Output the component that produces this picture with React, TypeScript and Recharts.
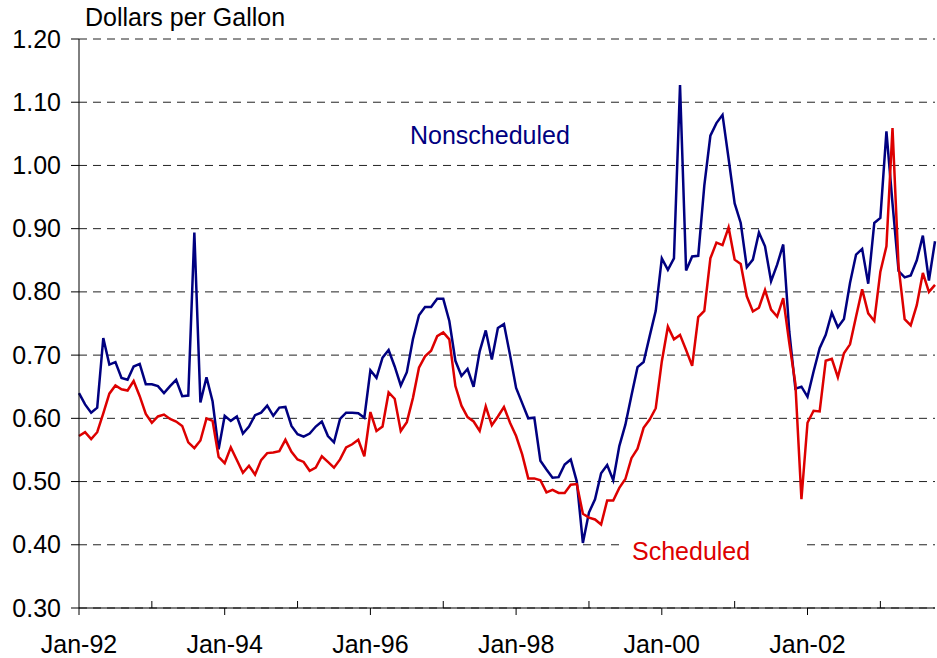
import React from 'react';
import {
  LineChart,
  Line,
  XAxis,
  YAxis,
  CartesianGrid,
} from 'recharts';

// monthly prices, Jan-92 .. Oct-03 (dollars per gallon)
const nonscheduled = [
  0.640, 0.622, 0.609, 0.617, 0.727, 0.685, 0.689, 0.664, 0.661, 0.682, 0.686, 0.654,
  0.654, 0.651, 0.640, 0.651, 0.661, 0.635, 0.636, 0.894, 0.625, 0.665, 0.627, 0.551,
  0.604, 0.596, 0.603, 0.576, 0.587, 0.605, 0.609, 0.620, 0.604, 0.617, 0.618, 0.588,
  0.575, 0.571, 0.576, 0.587, 0.595, 0.572, 0.562, 0.599, 0.609, 0.609, 0.608, 0.601,
  0.676, 0.664, 0.696, 0.708, 0.682, 0.652, 0.673, 0.725, 0.763, 0.776, 0.776, 0.789,
  0.789, 0.754, 0.691, 0.667, 0.678, 0.650, 0.706, 0.739, 0.693, 0.743, 0.749, 0.700,
  0.648, 0.624, 0.600, 0.601, 0.533, 0.519, 0.506, 0.507, 0.527, 0.535, 0.500, 0.403,
  0.451, 0.472, 0.513, 0.526, 0.502, 0.556, 0.590, 0.636, 0.681, 0.689, 0.730, 0.770,
  0.853, 0.835, 0.853, 1.127, 0.834, 0.856, 0.857, 0.968, 1.047, 1.067, 1.080, 1.011,
  0.940, 0.909, 0.839, 0.851, 0.894, 0.872, 0.817, 0.843, 0.875, 0.737, 0.647, 0.650,
  0.634, 0.674, 0.711, 0.732, 0.767, 0.744, 0.757, 0.814, 0.859, 0.868, 0.813, 0.909,
  0.917, 1.054, 0.940, 0.833, 0.823, 0.826, 0.850, 0.889, 0.818, 0.880,
];

const scheduled = [
  0.572, 0.578, 0.567, 0.578, 0.608, 0.639, 0.652, 0.646, 0.644, 0.659, 0.635, 0.607,
  0.593, 0.603, 0.606, 0.599, 0.595, 0.588, 0.562, 0.553, 0.565, 0.600, 0.596, 0.539,
  0.529, 0.554, 0.534, 0.514, 0.525, 0.511, 0.534, 0.545, 0.546, 0.548, 0.566, 0.547,
  0.535, 0.531, 0.517, 0.522, 0.540, 0.531, 0.522, 0.535, 0.554, 0.559, 0.566, 0.540,
  0.610, 0.580, 0.587, 0.641, 0.631, 0.580, 0.594, 0.632, 0.680, 0.698, 0.707, 0.730,
  0.736, 0.725, 0.651, 0.620, 0.602, 0.595, 0.580, 0.619, 0.589, 0.603, 0.618, 0.593,
  0.572, 0.543, 0.505, 0.505, 0.502, 0.483, 0.487, 0.482, 0.482, 0.495, 0.496, 0.449,
  0.443, 0.440, 0.432, 0.470, 0.470, 0.490, 0.504, 0.537, 0.552, 0.585, 0.598, 0.616,
  0.690, 0.745, 0.725, 0.732, 0.708, 0.683, 0.760, 0.770, 0.853, 0.878, 0.874, 0.902,
  0.851, 0.844, 0.793, 0.769, 0.775, 0.803, 0.772, 0.761, 0.790, 0.719, 0.655, 0.472,
  0.593, 0.612, 0.611, 0.691, 0.694, 0.665, 0.703, 0.717, 0.761, 0.804, 0.766, 0.754,
  0.832, 0.872, 1.059, 0.840, 0.757, 0.747, 0.779, 0.830, 0.800, 0.811,
];

// one tick per January; only every other year is labelled
const xTicks = [0, 12, 24, 36, 48, 60, 72, 84, 96, 108, 120, 132];
const xTickLabels = ['Jan-92', '', 'Jan-94', '', 'Jan-96', '', 'Jan-98', '', 'Jan-00', '', 'Jan-02', ''];
const yTicks = [0.3, 0.4, 0.5, 0.6, 0.7, 0.8, 0.9, 1.0, 1.1, 1.2];

const FONT = '"Liberation Sans", Arial, sans-serif';
const NAVY = '#000080';
const RED = '#dd0000';

const data = nonscheduled.map((v, i) => ({
  i,
  nonscheduled: v,
  scheduled: scheduled[i],
}));

function XTick(props: any) {
  const { x, y, payload } = props;
  const idx = xTicks.indexOf(payload.value);
  const label = xTickLabels[idx] ?? '';
  return (
    <g>
      {label ? (
        <line x1={x} x2={x} y1={y} y2={y + 7} stroke="#000" strokeWidth={1} />
      ) : (
        <line x1={x} x2={x} y1={y - 7} y2={y} stroke="#000" strokeWidth={1} />
      )}
      {label && (
        <text x={x} y={y + 45} textAnchor="middle" fontFamily={FONT} fontSize={25} fill="#000">
          {label}
        </text>
      )}
    </g>
  );
}

function YTick(props: any) {
  const { x, y, payload } = props;
  return (
    <text x={x - 8} y={y + 8.5} textAnchor="end" fontFamily={FONT} fontSize={25} fill="#000">
      {Number(payload.value).toFixed(2)}
    </text>
  );
}

export default function App() {
  return (
    <div style={{ position: 'absolute', left: 0, top: 0, width: 937, height: 658, background: '#fff' }}>
      <LineChart
        width={937}
        height={658}
        data={data}
        margin={{ top: 39, right: 2, bottom: 0, left: 0 }}
      >
        <CartesianGrid vertical={false} stroke="#222" strokeDasharray="8 6" />
        <XAxis
          type="number"
          dataKey="i"
          domain={[0, 141]}
          ticks={xTicks}
          height={50}
          tickSize={0}
          tickMargin={0}
          tickLine={false}
          axisLine={{ stroke: '#000', strokeWidth: 1 }}
          tick={<XTick />}
        />
        <YAxis
          type="number"
          domain={[0.3, 1.2]}
          ticks={yTicks}
          width={79}
          tickSize={8}
          axisLine={{ stroke: '#000', strokeWidth: 1 }}
          tickLine={{ stroke: '#000' }}
          tick={<YTick />}
        />
        <Line
          type="linear"
          dataKey="nonscheduled"
          stroke={NAVY}
          strokeWidth={2.5}
          dot={false}
          isAnimationActive={false}
        />
        <Line
          type="linear"
          dataKey="scheduled"
          stroke={RED}
          strokeWidth={2.5}
          dot={false}
          isAnimationActive={false}
        />
      </LineChart>
      <div style={{ position: 'absolute', left: 85, top: 5, fontFamily: FONT, fontSize: 25, lineHeight: '25px', whiteSpace: 'nowrap' }}>
        Dollars per Gallon
      </div>
      <div style={{ position: 'absolute', left: 410, top: 123, fontFamily: FONT, fontSize: 25, lineHeight: '25px', color: NAVY, whiteSpace: 'nowrap' }}>
        Nonscheduled
      </div>
      <div
        style={{
          position: 'absolute',
          left: 625,
          top: 536,
          width: 182,
          height: 30,
          background: '#fff',
          fontFamily: FONT,
          fontSize: 25,
          lineHeight: '25px',
          color: RED,
          whiteSpace: 'nowrap',
        }}
      >
        <div style={{ position: 'absolute', left: 7, top: 3 }}>Scheduled</div>
      </div>
    </div>
  );
}
